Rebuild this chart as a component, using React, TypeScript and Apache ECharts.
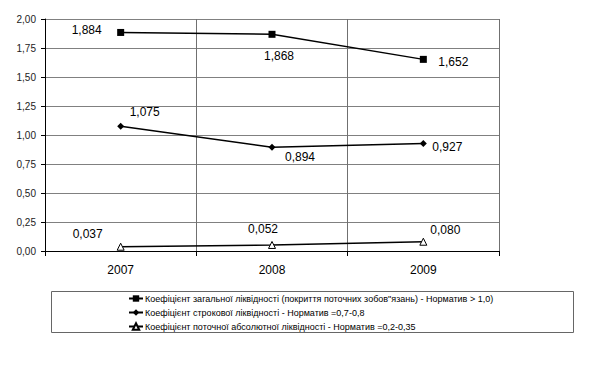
import React, { useEffect, useRef } from "react";
import * as echarts from "echarts";

const categories = ["2007", "2008", "2009"];
const seriesNames = [
  "Коефіцієнт загальної ліквідності (покриття поточних зобов\"язань) - Норматив > 1,0)",
  "Коефіцієнт строкової ліквідності - Норматив =0,7-0,8",
  "Коефіцієнт поточної абсолютної ліквідності - Норматив =0,2-0,35",
];
const generalLiquidity = [1.884, 1.868, 1.652];
const termLiquidity = [1.075, 0.894, 0.927];
const absoluteLiquidity = [0.037, 0.052, 0.08];
const yTicks = { min: 0, max: 2, interval: 0.25 };

const offsets1 = [[-34, -2], [7, 22], [30, 3]];
const offsets2 = [[24, -14], [28, 10], [24, 4]];
const offsets3 = [[-33, -13], [-9, -16], [22, -12]];

const fmt3 = (v: number) => v.toFixed(3).replace(".", ",");
const fmt2 = (v: number) => v.toFixed(2).replace(".", ",");

function makeData(values: number[], offs: number[][]) {
  return values.map((v, i) => ({
    value: v,
    label: { offset: offs[i] },
  }));
}

export default function App() {
  const ref = useRef<HTMLDivElement>(null);
  useEffect(() => {
    if (!ref.current) return;
    const chart = echarts.init(ref.current, null, { renderer: "svg" });
    const font = "Liberation Sans, Arial, sans-serif";
    const labelBase = {
      show: true,
      position: "inside" as const,
      fontSize: 12,
      fontFamily: font,
      color: "#000",
      formatter: (p: any) => fmt3(p.value),
    };
    chart.setOption({
      animation: false,
      backgroundColor: "#fff",
      textStyle: { fontFamily: font },
      grid: { left: 45, right: 97, top: 19, bottom: 115, containLabel: false },
      xAxis: {
        type: "category",
        data: categories,
        boundaryGap: true,
        axisLine: { lineStyle: { color: "#000", width: 1 } },
        axisTick: { show: true, length: 5, interval: 0, lineStyle: { color: "#000" } },
        axisLabel: { fontSize: 12, color: "#000", margin: 13, fontFamily: font },
        splitLine: { show: true, interval: 0, lineStyle: { color: "#707070", width: 1 } },
      },
      yAxis: {
        type: "value",
        min: yTicks.min,
        max: yTicks.max,
        interval: yTicks.interval,
        axisLine: { show: true, lineStyle: { color: "#000", width: 1 } },
        axisTick: { show: true, length: 4, lineStyle: { color: "#000" } },
        axisLabel: {
          fontSize: 10,
          color: "#222",
          margin: 9,
          fontFamily: font,
          formatter: (v: number) => fmt2(v),
        },
        splitLine: { show: true, lineStyle: { color: "#808080", width: 1 } },
      },
      legend: {
        orient: "vertical",
        left: 128,
        top: 294,
        itemGap: 5,
        itemWidth: 14,
        itemHeight: 8,
        padding: 0,
        textStyle: { fontSize: 9, color: "#000", fontFamily: font, padding: [0, 0, 0, -3] },
        data: seriesNames,
      },
      graphic: [
        {
          type: "rect",
          shape: { x: 51.5, y: 291.5, width: 522, height: 41 },
          style: { fill: "none", stroke: "#666", lineWidth: 1 },
          z: 0,
        },
      ],
      series: [
        {
          name: seriesNames[0],
          type: "line",
          data: makeData(generalLiquidity, offsets1),
          symbol: "rect",
          symbolSize: 7,
          lineStyle: { color: "#000", width: 1.5 },
          itemStyle: { color: "#000" },
          label: labelBase,
          z: 5,
        },
        {
          name: seriesNames[1],
          type: "line",
          data: makeData(termLiquidity, offsets2),
          symbol: "diamond",
          symbolSize: 7,
          lineStyle: { color: "#000", width: 1.5 },
          itemStyle: { color: "#000" },
          label: labelBase,
          z: 5,
        },
        {
          name: seriesNames[2],
          type: "line",
          data: makeData(absoluteLiquidity, offsets3),
          symbol: "triangle",
          symbolSize: 7,
          lineStyle: { color: "#000", width: 1.5 },
          itemStyle: { color: "#fff", borderColor: "#000", borderWidth: 1 },
          label: labelBase,
          z: 5,
        },
      ],
    });
    return () => chart.dispose();
  }, []);
  return <div ref={ref} style={{ width: 596, height: 366, position: "absolute", left: 0, top: 0 }} />;
}
